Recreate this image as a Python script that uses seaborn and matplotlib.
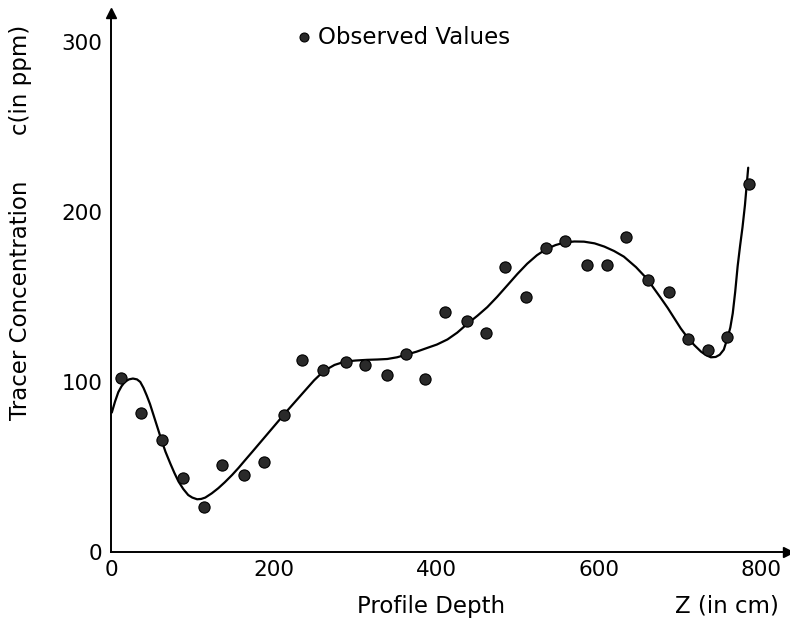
import matplotlib
matplotlib.use("Agg")
import matplotlib.pyplot as plt
import seaborn as sns
import pandas as pd

# observed tracer concentrations
obs_depth = [12, 37, 63, 88, 114, 136, 164, 188, 213, 235, 261, 289, 312, 339, 363, 386,
             411, 438, 461, 485, 510, 535, 558, 586, 610, 634, 661, 687, 710, 735, 758, 785]
obs_conc = [102.5, 82, 66, 43.5, 26.5, 51, 45, 53, 80.5, 113, 107, 112, 110, 104, 116.5, 101.5,
            141, 136, 129, 167.5, 150, 178.5, 183, 168.5, 169, 185, 160, 153, 125, 119, 126.5, 216.5]

# fitted curve, traced point by point
fit_depth = [1, 5, 9, 13, 17, 22, 27, 32, 36, 40, 44, 48, 52, 57, 62, 67, 73, 78, 83, 89, 95,
             100, 106, 111, 116, 124, 132, 140, 149, 157, 165, 174, 182, 190, 198, 206, 213,
             225, 237, 250, 262, 275, 288, 301, 315, 328, 340, 352, 363, 376, 389, 401, 414,
             426, 438, 451, 463, 475, 488, 500, 512, 524, 535, 547, 558, 570, 582, 595, 607,
             619, 631, 646, 660, 668, 677, 685, 693, 701, 710, 718, 726, 732, 738, 744, 749,
             754, 759, 762, 765, 768, 771, 774, 777, 780, 784]
fit_conc = [82, 88.5, 94, 97.5, 100, 101.5, 102, 101.5, 100, 96.5, 92, 87, 81, 73.5, 66, 59,
            52, 46.5, 41.5, 37, 33.5, 32, 31, 31.2, 32, 34.5, 37.5, 41, 45.3, 49.5, 54, 59,
            63.5, 68, 72.5, 77, 81, 87.5, 94, 101, 106.5, 110, 112, 112.6, 113, 113.2, 113.5,
            114.5, 116, 117.8, 120, 122, 125, 129, 134, 139, 144, 150, 157, 163.5, 169.5,
            174.5, 178, 180.5, 182, 182.6, 182.5, 181.5, 179.6, 177, 173.7, 167.5, 160.4, 155,
            149, 143.5, 137.5, 131.5, 125.7, 121.5, 117.8, 115.8, 114.5, 114.7, 116, 119,
            126.6, 132, 140.4, 153, 168, 180, 191, 204, 226]

obs = pd.DataFrame({"depth": obs_depth, "conc": obs_conc})
fit = pd.DataFrame({"depth": fit_depth, "conc": fit_conc})

sns.set_style("white")
plt.rcParams["font.family"] = ["DejaVu Sans"]
plt.rcParams["text.color"] = "black"

fig = plt.figure(figsize=(7.9, 6.2), dpi=100)
ax = fig.add_axes([0.1405, 0.1097, 0.857, 0.8694])

sns.lineplot(data=fit, x="depth", y="conc", color="black", linewidth=1.6, ax=ax,
             sort=False, legend=False)
sns.scatterplot(data=obs, x="depth", y="conc", color="#2a2a2a", edgecolor="black",
                linewidth=0.8, s=65, ax=ax, label="Observed Values", zorder=3)

ax.set_xlim(0, 833)
ax.set_ylim(0, 317)
ax.set_xticks([0, 200, 400, 600, 800])
ax.set_yticks([0, 100, 200, 300])
ax.tick_params(direction="in", length=7, width=1.3, labelsize=15.5, colors="black", pad=6)
for side in ["top", "right"]:
    ax.spines[side].set_visible(False)
for side in ["left", "bottom"]:
    ax.spines[side].set_linewidth(1.4)
    ax.spines[side].set_color("black")

# arrow heads on the axes
ax.plot(1, 0, marker=">", color="black", markersize=7, transform=ax.transAxes, clip_on=False)
ax.plot(0, 1, marker="^", color="black", markersize=7, transform=ax.transAxes, clip_on=False)

ax.set_xlabel("")
ax.set_ylabel("")
lab = dict(fontsize=16.5, color="black", va="center")
fig.text(431 / 790, 1 - 606 / 620, "Profile Depth", ha="center", **lab)
fig.text(727 / 790, 1 - 606 / 620, "Z (in cm)", ha="center", **lab)
fig.text(21 / 790, 1 - 300 / 620, "Tracer Concentration", rotation=90, ha="center", **lab)
fig.text(21 / 790, 1 - 80 / 620, "c(in ppm)", rotation=90, ha="center", **lab)

ax.legend(loc="center left", bbox_to_anchor=(295 / 790, 1 - 37 / 620),
          bbox_transform=fig.transFigure, frameon=False, handletextpad=0.25,
          borderpad=0, borderaxespad=0, handlelength=0.75, fontsize=16.5,
          markerscale=0.8)

fig.savefig("out.png", dpi=100, facecolor="white")
